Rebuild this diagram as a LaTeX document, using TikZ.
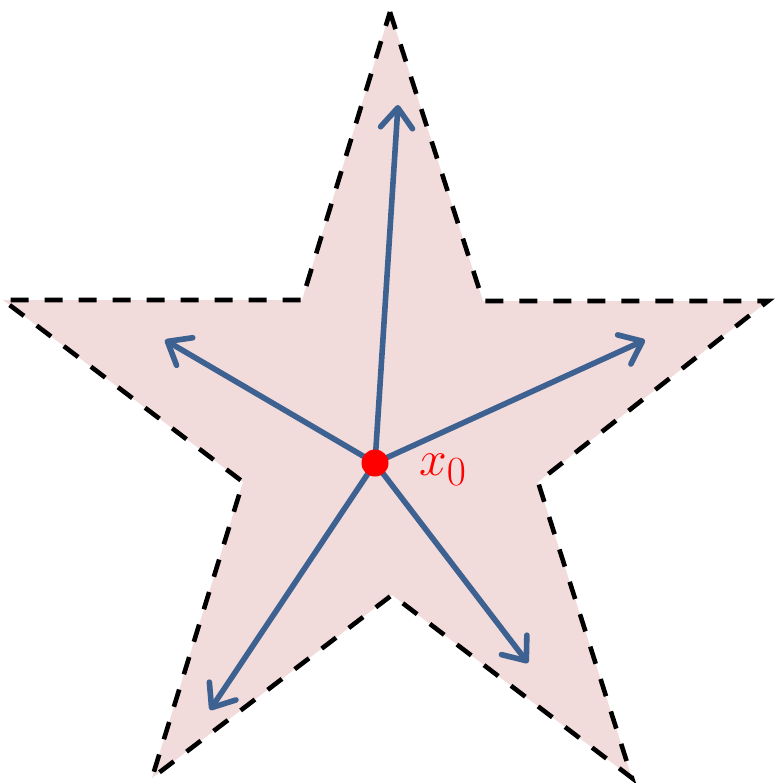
\documentclass[tikz,border=0pt]{standalone}
\usetikzlibrary{arrows.meta}
\definecolor{starfill}{HTML}{F2DCDB}
\definecolor{arrowblue}{HTML}{3D6191}
\tikzset{
  starline/.style={draw=black, line width=2.3pt, dash pattern=on 9pt off 8pt, fill=starfill, line join=miter},
  vec/.style={draw=arrowblue, line width=2.8pt, line cap=round, -{Straight Barb[length=10pt,width=16pt,round]}},
  dot/.style={circle, fill=red, inner sep=0pt, minimum size=13.5pt},
}
\begin{document}
\begin{tikzpicture}[x=0.5pt,y=-0.5pt]
\useasboundingbox (0,0) rectangle (782,783);
\path[starline] (390,12) -- (483,301) -- (768,301) -- (538,482) -- (632,778) -- (392,595) -- (152,778) -- (243,482) -- (3,300) -- (302,300) -- cycle;
\coordinate (c) at (375,463);
\coordinate (tu) at (398,105);
\coordinate (tul) at (165,340);
\coordinate (tur) at (645,340);
\coordinate (tll) at (210,710);
\coordinate (tlr) at (528,663);
\draw[vec] (c) -- (tu);
\draw[vec] (c) -- (tul);
\draw[vec] (c) -- (tur);
\draw[vec] (c) -- (tll);
\draw[vec] (c) -- (tlr);
\node[dot] (x0) at (c) {};
\node[text=red, font=\fontsize{28pt}{32pt}\selectfont, anchor=west] (lbl) at (412,470) {$x_0$};
\end{tikzpicture}
\end{document}
